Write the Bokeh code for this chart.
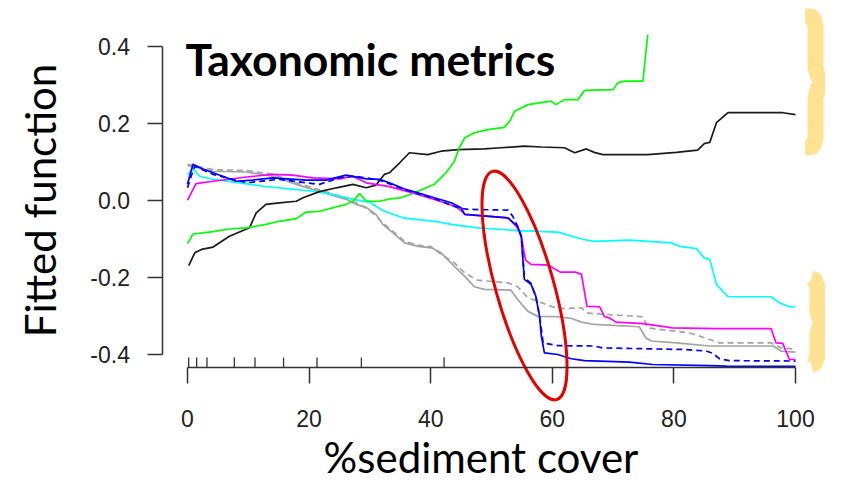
import math
from bokeh.plotting import figure
from bokeh.models import FixedTicker, Label, Range1d
from bokeh.embed import file_html
from bokeh.resources import INLINE

# ---------------- data ----------------
x_ticks = [0, 20, 40, 60, 80, 100]
x_tick_labels = ["0", "20", "40", "60", "80", "100"]
y_ticks = [-0.4, -0.2, 0.0, 0.2, 0.4]
y_tick_labels = ["-0.4", "-0.2", "0.0", "0.2", "0.4"]

rug_x = [0.2, 1.5, 3.2, 7.7, 11.1, 15.8, 21.3, 28.6, 42.2]

black_x = [0.2, 1.2, 2.3, 4.2, 6.9, 10.2, 11.3, 12.9, 15.1, 17.9, 19.0, 21.7, 24.5, 27.2, 29.4, 31.0,
           32.4, 33.2, 34.9, 36.5, 39.5, 41.7, 44.5, 48.8, 51.6, 55.4, 58.2, 62.0, 63.7, 65.6, 66.9,
           68.3, 75.7, 80.4, 83.9, 85.0, 85.9, 87.0, 88.9, 97.9, 100.0]
black_y = [-0.169, -0.136, -0.127, -0.121, -0.093, -0.071, -0.032, -0.010, -0.006, -0.002, 0.007,
           0.023, 0.033, 0.042, 0.033, 0.040, 0.068, 0.072, 0.098, 0.124, 0.119, 0.128, 0.132, 0.134,
           0.137, 0.141, 0.139, 0.137, 0.124, 0.134, 0.125, 0.119, 0.119, 0.125, 0.131, 0.148, 0.151,
           0.202, 0.228, 0.228, 0.223]

green_x = [0.0, 0.9, 4.2, 6.9, 9.7, 12.9, 15.1, 17.9, 19.5, 21.7, 26.1, 27.2, 28.3, 29.4, 31.6, 33.2,
           35.1, 37.9, 40.6, 42.5, 43.9, 44.7, 45.6, 47.2, 49.4, 52.1, 53.0, 53.8, 56.0, 59.8, 60.6,
           62.0, 64.2, 65.3, 70.0, 70.8, 71.9, 74.9, 75.7]
green_y = [-0.112, -0.087, -0.081, -0.074, -0.071, -0.062, -0.054, -0.047, -0.030, -0.028, -0.010,
           -0.002, 0.018, -0.002, -0.002, 0.004, 0.007, 0.024, 0.042, 0.072, 0.102, 0.137, 0.163,
           0.176, 0.184, 0.190, 0.206, 0.232, 0.249, 0.258, 0.249, 0.262, 0.262, 0.286, 0.288, 0.306,
           0.310, 0.310, 0.431]

cyan_x = [0.0, 0.9, 2.0, 4.2, 8.6, 12.4, 16.8, 20.6, 23.9, 27.2, 29.9, 32.1, 35.4, 40.6, 43.4, 47.7,
          54.3, 60.9, 64.8, 66.9, 72.7, 79.6, 80.9, 83.7, 85.0, 85.9, 87.0, 88.9, 96.0, 97.4, 99.0,
          100.0]
cyan_y = [0.068, 0.082, 0.063, 0.055, 0.046, 0.037, 0.030, 0.024, 0.016, 0.003, -0.004, -0.026,
          -0.045, -0.054, -0.062, -0.071, -0.078, -0.082, -0.100, -0.106, -0.103, -0.110, -0.119,
          -0.125, -0.149, -0.153, -0.218, -0.250, -0.250, -0.266, -0.276, -0.276]

magenta_x = [0.0, 1.4, 4.2, 9.7, 14.0, 17.3, 20.6, 25.0, 27.2, 29.4, 33.2, 37.9, 42.3, 44.5, 45.6,
             52.7, 54.1, 54.9, 55.6, 56.5, 59.4, 61.3, 63.8, 64.8, 65.7, 67.8, 68.6, 69.4, 70.5,
             74.9, 79.8, 87.0, 96.0, 96.8, 97.9, 99.0, 100.0]
magenta_y = [0.001, 0.044, 0.050, 0.061, 0.068, 0.066, 0.059, 0.056, 0.063, 0.046, 0.036, 0.016,
             -0.006, -0.019, -0.036, -0.045, -0.067, -0.093, -0.155, -0.166, -0.168, -0.186, -0.186,
             -0.192, -0.275, -0.276, -0.302, -0.305, -0.316, -0.320, -0.331, -0.333, -0.333, -0.370,
             -0.371, -0.413, -0.413]

blue_x = [0.0, 0.9, 2.5, 4.2, 5.8, 8.0, 10.7, 14.0, 19.5, 22.8, 26.1, 29.4, 31.6, 33.2, 35.7, 37.9,
          40.6, 43.4, 45.0, 45.6, 52.7, 54.3, 54.9, 55.4, 56.5, 57.3, 57.9, 58.2, 58.7, 60.9, 63.1,
          65.3, 72.7, 76.5, 85.9, 88.6, 100.0]
blue_y = [0.042, 0.094, 0.082, 0.072, 0.063, 0.050, 0.053, 0.059, 0.053, 0.053, 0.066, 0.056, 0.055,
          0.046, 0.030, 0.020, 0.007, -0.006, -0.019, -0.036, -0.045, -0.067, -0.093, -0.205, -0.218,
          -0.249, -0.301, -0.352, -0.396, -0.400, -0.411, -0.416, -0.420, -0.426, -0.429, -0.430,
          -0.431]

blue_dash_x = [0.0, 0.6, 1.2, 4.2, 9.7, 15.1, 19.5, 21.7, 25.0, 27.7, 31.6, 35.7, 40.6, 44.5, 46.1,
               52.7, 53.5, 54.3, 54.9, 55.4, 56.5, 57.3, 57.9, 58.5, 60.9, 66.9, 68.3, 81.5, 85.3,
               86.4, 87.5, 89.1, 100.0]
blue_dash_y = [0.033, 0.063, 0.089, 0.068, 0.046, 0.055, 0.046, 0.042, 0.059, 0.063, 0.053, 0.028,
               0.005, -0.019, -0.023, -0.025, -0.041, -0.067, -0.093, -0.200, -0.215, -0.250, -0.300,
               -0.370, -0.377, -0.378, -0.383, -0.387, -0.391, -0.397, -0.411, -0.416, -0.417]

gray_x = [0.0, 4.2, 9.7, 14.0, 17.9, 20.6, 23.4, 26.1, 27.7, 29.4, 31.0, 32.1, 33.8, 35.7, 37.9, 40.1,
          41.7, 43.9, 45.6, 47.2, 48.8, 53.2, 54.3, 56.0, 57.6, 60.9, 63.1, 64.8, 66.9, 74.3, 75.4,
          76.3, 80.4, 85.9, 96.3, 97.6, 100.0]
gray_y = [0.091, 0.076, 0.074, 0.063, 0.042, 0.029, 0.016, 0.003, -0.010, -0.018, -0.036, -0.062,
          -0.084, -0.110, -0.119, -0.123, -0.136, -0.171, -0.197, -0.224, -0.231, -0.233, -0.257,
          -0.288, -0.301, -0.302, -0.306, -0.316, -0.322, -0.328, -0.357, -0.365, -0.370, -0.378,
          -0.378, -0.391, -0.394]

gray_dash_x = [0.0, 4.2, 9.7, 14.0, 17.9, 20.6, 23.4, 26.1, 27.7, 29.4, 31.0, 32.1, 33.8, 35.7, 37.9,
               40.1, 41.7, 43.9, 45.6, 47.7, 52.7, 54.3, 56.0, 57.6, 60.9, 64.8, 65.8, 66.9, 74.9,
               75.7, 82.6, 85.9, 87.5, 96.0, 97.6, 100.0]
gray_dash_y = [0.094, 0.080, 0.078, 0.068, 0.046, 0.033, 0.019, 0.005, -0.006, -0.020, -0.040,
               -0.058, -0.080, -0.106, -0.116, -0.120, -0.140, -0.162, -0.188, -0.207, -0.214,
               -0.224, -0.253, -0.262, -0.281, -0.279, -0.292, -0.294, -0.302, -0.331, -0.344,
               -0.361, -0.370, -0.370, -0.383, -0.386]

# ---------------- decorations (annotation shapes) ----------------
brace1_x = [101.6, 102.6, 103.0, 103.3, 103.3, 103.7, 104.7, 103.7, 103.3, 103.3, 103.0, 102.6, 101.6]
brace1_y = [0.478, 0.478, 0.470, 0.452, 0.346, 0.322, 0.307, 0.291, 0.268, 0.164, 0.146, 0.138, 0.138]
brace2_x = [102.6, 103.1, 103.6, 103.6, 104.0, 104.8, 104.0, 103.6, 103.6, 103.1, 102.6]
brace2_y = [-0.203, -0.205, -0.223, -0.288, -0.307, -0.317, -0.327, -0.346, -0.405, -0.424, -0.426]

X_AXIS_AT = -0.4338   # where the x axis line sits (data units of y)
Y_AXIS_AT = -4.03     # where the y axis line sits (data units of x)

p = figure(width=825, height=482, output_backend="svg", toolbar_location=None, title=None,
           x_range=Range1d(-30.757, 104.934), y_range=Range1d(-0.7325, 0.5195),
           min_border_left=0, min_border_right=0, min_border_top=0, min_border_bottom=0)
p.xgrid.visible = False
p.ygrid.visible = False
p.outline_line_color = None
p.background_fill_color = "white"
p.border_fill_color = "white"

for ax, ticks, labels in ((p.xaxis, x_ticks, x_tick_labels), (p.yaxis, y_ticks, y_tick_labels)):
    ax.ticker = FixedTicker(ticks=ticks)
    ax.major_label_overrides = {t: l for t, l in zip(ticks, labels)}
    ax.bounds = (ticks[0], ticks[-1])
    ax.major_tick_in = 0
    ax.major_tick_out = 15
    ax.minor_tick_out = 0
    ax.minor_tick_in = 0
    ax.axis_line_color = "#333333"
    ax.axis_line_width = 1.5
    ax.major_tick_line_color = "#333333"
    ax.major_tick_line_width = 1.5
    ax.major_label_text_font = "Liberation Sans"
    ax.major_label_text_font_size = "23px"
    ax.major_label_text_color = "#222222"
p.xaxis.fixed_location = X_AXIS_AT
p.yaxis.fixed_location = Y_AXIS_AT
p.xaxis.major_label_standoff = 26
p.yaxis.major_label_standoff = 18
p.xaxis.major_tick_out = 16

# rug
p.segment(x0=rug_x, y0=[X_AXIS_AT] * len(rug_x), x1=rug_x, y1=[-0.408] * len(rug_x),
          line_color="#333333", line_width=1.3)

lw = 1.7
p.line(gray_x, gray_y, line_color="#A3A3A3", line_width=lw)
p.line(gray_dash_x, gray_dash_y, line_color="#A3A3A3", line_width=lw, line_dash="6 4")
p.line(cyan_x, cyan_y, line_color="#00FFFF", line_width=lw)
p.line(black_x, black_y, line_color="#1A1A1A", line_width=lw)
p.line(green_x, green_y, line_color="#00FF00", line_width=lw)
p.line(magenta_x, magenta_y, line_color="#FF00FF", line_width=lw)
p.line(blue_x, blue_y, line_color="#0000FF", line_width=lw)
p.line(blue_dash_x, blue_dash_y, line_color="#0000FF", line_width=lw, line_dash="6 4")

# highlight ellipse
p.ellipse(x=[55.43], y=[-0.2208], width=58, height=237, angle=0.274,
          width_units="screen", height_units="screen",
          fill_color=None, line_color="#E60000", line_width=3)

# braces
p.line(brace1_x, brace1_y, line_color="#FFE291", line_width=16, line_join="round")
p.line(brace2_x, brace2_y, line_color="#FFE291", line_width=16, line_join="round")

p.add_layout(Label(x=-0.33, y=0.3688, text="Taxonomic metrics", text_font="Lato",
                   text_font_style="bold", text_font_size="44.5px", text_align="left",
                   text_baseline="alphabetic", text_color="black"))
p.add_layout(Label(x=48.27, y=-0.6675, text="%sediment cover", text_font="Lato",
                   text_font_size="42px", text_align="center", text_baseline="alphabetic",
                   text_color="black"))
p.add_layout(Label(x=-24.18, y=0.0, angle=math.pi / 2, text="Fitted function", text_font="Lato",
                   text_font_size="42px", text_align="center", text_baseline="alphabetic",
                   text_color="black"))

open("out.html", "w").write(file_html(p, INLINE))
